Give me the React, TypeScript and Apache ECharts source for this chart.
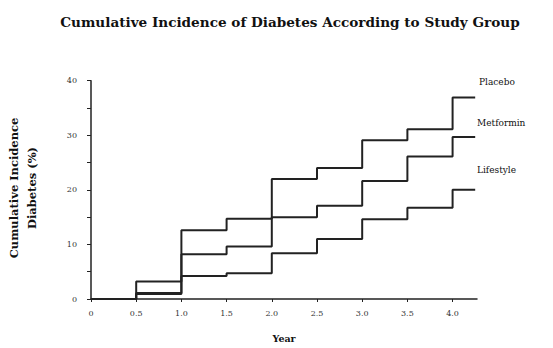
import React, { useEffect, useRef } from "react";
import * as echarts from "echarts";

const years = [0, 0.5, 1.0, 1.5, 2.0, 2.5, 3.0, 3.5, 4.0, 4.25];
const placebo = [0, 3.2, 12.6, 14.7, 22.0, 24.0, 29.1, 31.1, 36.9, 36.9];
const metformin = [0, 1.1, 8.2, 9.6, 15.0, 17.1, 21.6, 26.1, 29.7, 29.7];
const lifestyle = [0, 0.9, 4.2, 4.7, 8.4, 11.0, 14.6, 16.7, 20.0, 20.0];
const seriesNames = ["Placebo", "Metformin", "Lifestyle"];
const xTickLabels: Record<string, string> = {
  "0": "0", "0.5": "0.5", "1": "1.0", "1.5": "1.5", "2": "2.0",
  "2.5": "2.5", "3": "3.0", "3.5": "3.5", "4": "4.0",
};

const FONT = "'DejaVu Serif', 'Liberation Serif', serif";
const INK = "#222";

export default function App() {
  const ref = useRef<HTMLDivElement>(null);
  useEffect(() => {
    if (!ref.current) return;
    const chart = echarts.init(ref.current, null, { renderer: "svg" });
    const all = [placebo, metformin, lifestyle];
    const toData = (vals: number[]) => years.map((x, i) => [x, vals[i]]);
    chart.setOption({
      animation: false,
      backgroundColor: "#fff",
      title: {
        text: "Cumulative Incidence of Diabetes According to Study Group",
        left: 285,
        textAlign: "center",
        top: 10,
        textStyle: { fontFamily: FONT, fontSize: 13.6, fontWeight: "bold", color: "#111" },
      },
      grid: { left: 91, right: 76, top: 80.7, bottom: 45, containLabel: false },
      xAxis: {
        type: "value",
        min: 0,
        max: 4.27,
        interval: 0.5,
        name: "Year",
        nameLocation: "middle",
        nameGap: 34,
        nameTextStyle: { fontFamily: FONT, fontSize: 9.5, color: "#111", fontWeight: "bold" },
        axisLine: { show: true, onZero: false, lineStyle: { color: INK, width: 1.5 } },
        axisTick: { show: true, length: 3, lineStyle: { color: INK } },
        axisLabel: {
          fontFamily: FONT,
          fontSize: 8,
          color: "#333",
          margin: 10,
          showMaxLabel: false,
          formatter: (v: number) => xTickLabels[String(v)] ?? "",
        },
        splitLine: { show: false },
      },
      yAxis: {
        type: "value",
        min: 0,
        max: 40,
        interval: 5,
        axisLine: { show: true, lineStyle: { color: INK, width: 1.5 } },
        axisTick: { show: true, length: 4, lineStyle: { color: INK } },
        axisLabel: {
          fontFamily: FONT,
          fontSize: 8,
          color: "#333",
          margin: 14,
          formatter: (v: number) => (v % 10 === 0 ? String(v) : ""),
        },
        splitLine: { show: false },
      },
      series: all.map((vals, i) => ({
        name: seriesNames[i],
        type: "line",
        step: "end",
        data: toData(vals),
        showSymbol: false,
        symbol: "none",
        lineStyle: { color: INK, width: 2 },
        z: 3,
      })),
      graphic: [
        {
          type: "text",
          x: 23,
          y: 188,
          rotation: Math.PI / 2,
          style: {
            text: "Cumulative Incidence\nDiabetes (%)",
            font: `bold 11.5px ${FONT}`,
            fill: "#111",
            align: "center",
            verticalAlign: "middle",
            lineHeight: 18,
          },
        },
        {
          type: "text",
          x: 479,
          y: 82,
          style: { text: seriesNames[0], font: `9px ${FONT}`, fill: "#111", verticalAlign: "middle" },
        },
        {
          type: "text",
          x: 477,
          y: 123,
          style: { text: seriesNames[1], font: `9px ${FONT}`, fill: "#111", verticalAlign: "middle" },
        },
        {
          type: "text",
          x: 477,
          y: 170,
          style: { text: seriesNames[2], font: `9px ${FONT}`, fill: "#111", verticalAlign: "middle" },
        },
      ],
    });
    return () => chart.dispose();
  }, []);
  return (
    <div
      ref={ref}
      style={{ position: "fixed", left: 0, top: 0, width: 553, height: 348 }}
    />
  );
}
